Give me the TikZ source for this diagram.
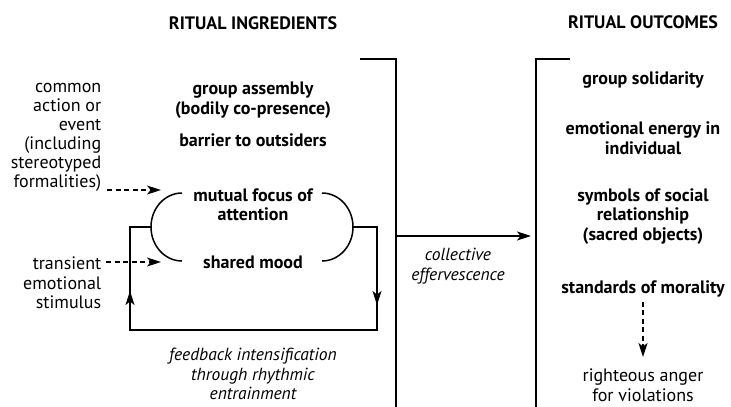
\documentclass[tikz,border=0pt]{standalone}
\usepackage{fontspec}
\setmainfont{PT Sans}
\usetikzlibrary{arrows.meta}
\begin{document}
\begin{tikzpicture}[x=1pt,y=-1pt,line width=1.5pt,
  >={Stealth[length=14pt,width=9pt,inset=3.5pt]},
  txt/.style={inner sep=0pt, align=center, font=\fontsize{18}{19.5}\selectfont},
  hd/.style={txt, font=\fontsize{18}{19.5}\selectfont\bfseries},
  bld/.style={txt, font=\fontsize{18}{19.5}\selectfont\bfseries},
  itl/.style={txt, font=\fontsize{17.5}{19.5}\selectfont\itshape},
  dsh/.style={dash pattern=on 5pt off 3.5pt, ->}]
\useasboundingbox (0,0) rectangle (731,407);
% headings
\node[hd] (ingr) at (253,23) {RITUAL INGREDIENTS};
\node[hd] (outc) at (643,22) {RITUAL OUTCOMES};
% ingredients
\node[bld] (assembly) at (253,100) {group assembly\\(bodily co-presence)};
\node[bld] (barrier) at (253,140) {barrier to outsiders};
\node[bld] (focus) at (253,205) {mutual focus of\\attention};
\node[bld] (mood) at (253,262) {shared mood};
\node[txt, align=right, anchor=east, font=\fontsize{18}{19}\selectfont] (action) at (102,137.5) {common\\action or\\event\\(including\\stereotyped\\formalities)};
\node[txt, align=right, anchor=east] (stimulus) at (102,283) {transient\\emotional\\stimulus};
\node[itl] (feedback) at (253,374) {feedback intensification\\through rhythmic\\entrainment};
\node[itl] (effer) at (458,266) {collective\\effervescence};
% outcomes
\node[bld] (solid) at (643,80) {group solidarity};
\node[bld] (energy) at (643,138) {emotional energy in\\individual};
\node[bld] (symbols) at (643,216.5) {symbols of social\\relationship\\(sacred objects)};
\node[bld] (morality) at (643,289) {standards of morality};
\node[txt] (anger) at (643,385) {righteous anger\\for violations};
% brackets
\coordinate (ingrA) at (360,59);
\coordinate (ingrB) at (396,59);
\coordinate (ingrC) at (396,407);
\coordinate (outA) at (570,59);
\coordinate (outB) at (536,59);
\coordinate (outC) at (536,407);
\draw (ingrA) -- (ingrB) -- (ingrC);
\draw (outA) -- (outB) -- (outC);
\coordinate (effA) at (396,236);
\coordinate (effB) at (531,236);
\draw[->] (effA) -- (effB);
% arcs round focus and mood
\coordinate (arcL) at (182,193);
\coordinate (arcR) at (322,193);
\coordinate (arcLmid) at (151,227);
\coordinate (arcRmid) at (353,227);
\draw (arcL) arc[start angle=90, end angle=270, x radius=31pt, y radius=34pt];
\draw (arcR) arc[start angle=90, end angle=-90, x radius=31pt, y radius=34pt];
% feedback loop
\coordinate (loopTL) at (130,227);
\coordinate (loopBL) at (130,330);
\coordinate (loopBR) at (377,330);
\coordinate (loopTR) at (377,227);
\coordinate (upTip) at (130,291);
\coordinate (downTip) at (377,305);
\draw (arcRmid) -- (loopTR) -- (loopBR) -- (loopBL) -- (loopTL) -- (arcLmid);
\draw[->] (loopTR) -- (downTip);
\draw[->] (loopBL) -- (upTip);
% dashed inputs
\coordinate (actEnd) at (107,190);
\coordinate (focusIn) at (161,190);
\coordinate (stimEnd) at (106,262);
\coordinate (moodIn) at (161,262);
\draw[dsh] (actEnd) -- (focusIn);
\draw[dsh] (stimEnd) -- (moodIn);
\draw[dsh, shorten <=4pt, shorten >=11pt] (morality.south) -- (anger.north);
\end{tikzpicture}
\end{document}
